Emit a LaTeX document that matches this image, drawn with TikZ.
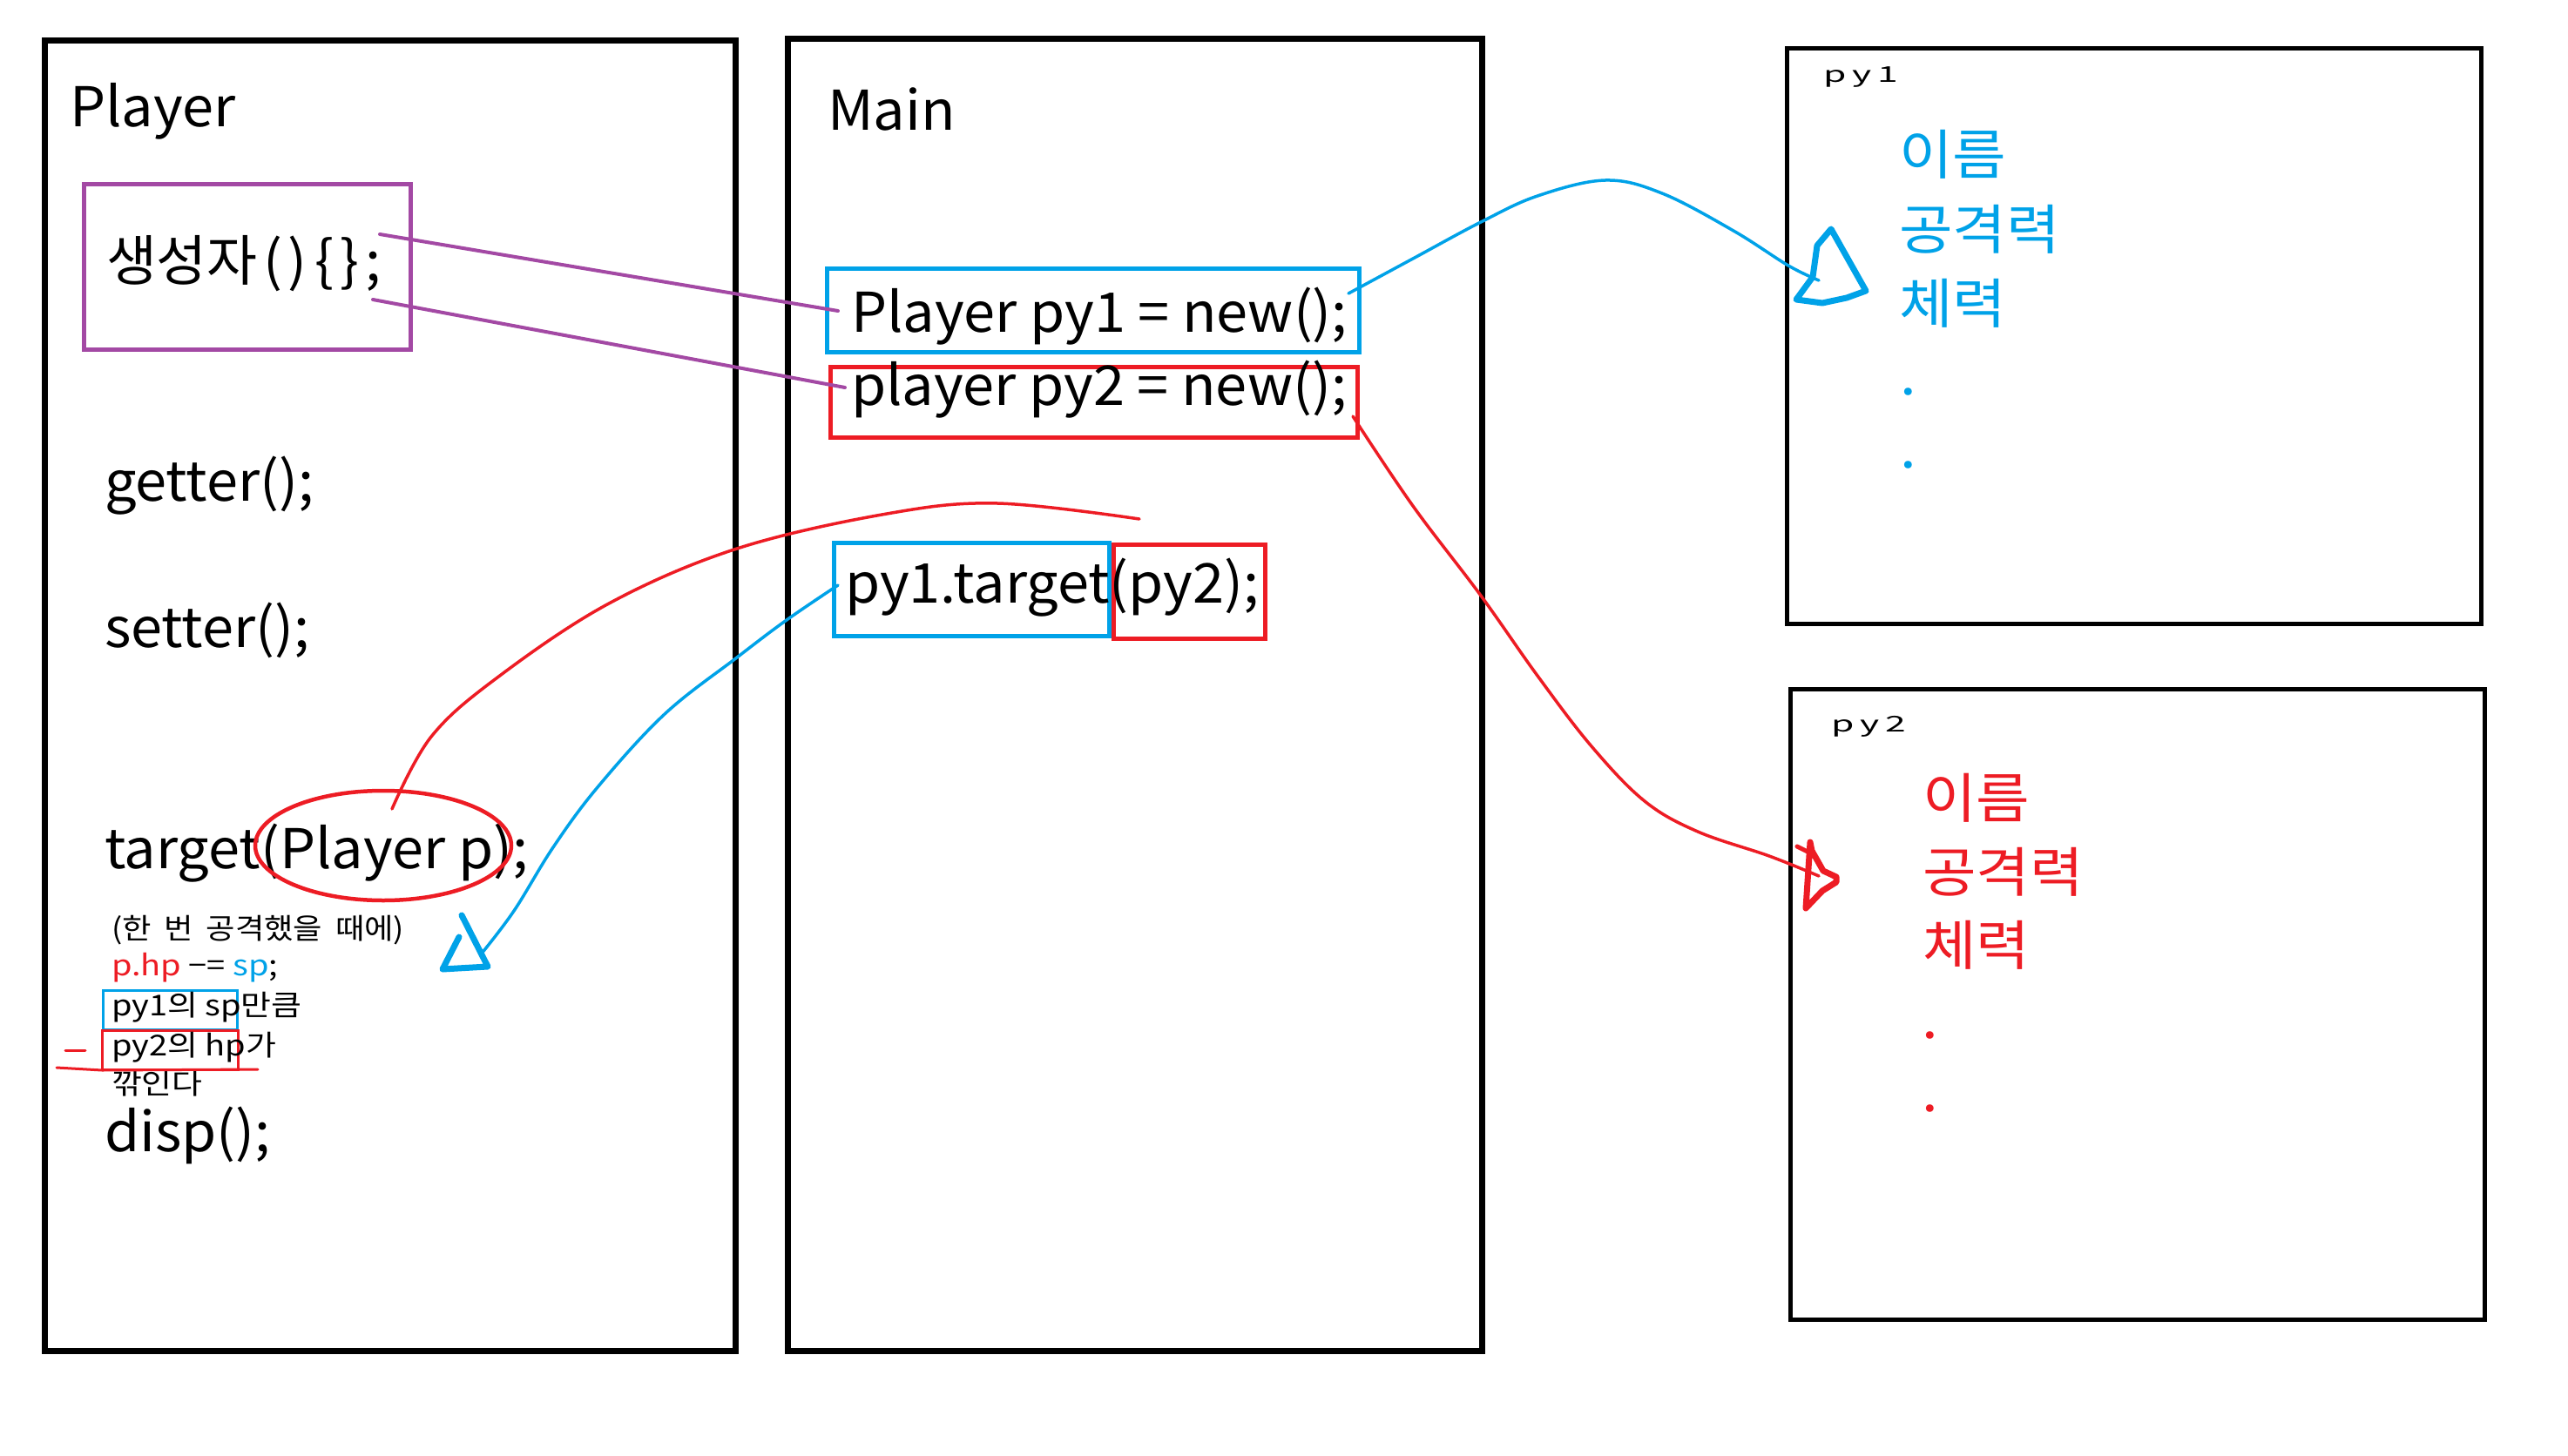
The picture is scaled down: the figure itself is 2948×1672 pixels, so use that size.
\documentclass[tikz,border=0pt]{standalone}
\usepackage{fontspec}
\setmainfont{Noto Sans CJK KR}
\newfontfamily\wf[FakeStretch=1.03]{Noto Sans CJK KR}
\newfontfamily\smallwf[FakeStretch=1.15]{Noto Sans CJK KR}
\newfontfamily\notef[FakeStretch=1.1]{Noto Sans CJK KR}
\newfontfamily\fieldf[FakeStretch=1.08]{Noto Sans CJK KR}
\usetikzlibrary{shapes.geometric}
\newcommand\myfs[1]{\fontsize{#1}{#1}\selectfont}
\definecolor{pblue}{HTML}{00A2E8}
\definecolor{pred}{HTML}{ED1C24}
\definecolor{ppurple}{HTML}{A349A4}
\begin{document}
\begin{tikzpicture}[x=1pt,y=-1pt,
  txt/.style={anchor=base west,inner sep=0pt,outer sep=0pt},
  big/.style={txt,font=\wf\myfs{63}},
  small/.style={txt,font=\smallwf\myfs{33}},
  bigbox/.style={draw=black,line width=7pt,inner sep=0pt,outer sep=0pt,anchor=north west},
  objbox/.style={draw=black,line width=5pt,inner sep=0pt,outer sep=0pt,anchor=north west},
  cbox/.style={draw=#1,line width=5pt,inner sep=0pt,outer sep=0pt,anchor=north west},
  sbox/.style={draw=#1,line width=3pt,inner sep=0pt,outer sep=0pt,anchor=north west},
  conn/.style={draw=#1,line width=3.5pt,line cap=round,line join=round},
  head/.style={draw=#1,line width=7pt,line cap=round,line join=round},
  field/.style={txt,font=\fieldf\myfs{62},text=#1}]
\useasboundingbox[fill=white] (0,0) rectangle (2948,1672);

% frames
\node[bigbox,minimum width=793pt,minimum height=1504pt] (playerbox) at (51,47) {};
\node[bigbox,minimum width=797pt,minimum height=1506pt] (mainbox) at (904,45) {};
\node[objbox,minimum width=797pt,minimum height=660pt] (py1box) at (2051,56) {};
\node[objbox,minimum width=797pt,minimum height=724pt] (py2box) at (2055,791) {};

% Player column
\node[big] (tplayer) at (80,146) {Player};
\node[cbox=ppurple,minimum width=375pt,minimum height=189pt] (ctorbox) at (96,212) {};
\node[txt] (ctor) at (122,322) {\myfs{63}생성자{\wf\kern7pt(\kern6pt)\kern9pt\{\kern7pt\}\kern7pt;}};
\node[big] (getter) at (120,575) {getter();};
\node[big] (setter) at (120,743) {setter();};
\node[big] (target) at (120,997) {target(Player p);};
\node[draw=pred,line width=4.5pt,ellipse,minimum width=294pt,minimum height=126pt,inner sep=0pt] (ell) at (440,971) {};
\node[txt,font=\notef\myfs{33}] (note1) at (128,1078) {(한\hspace{.45em}번\hspace{.45em}공격했을\hspace{.45em}때에)};
\node[small] (note2) at (128,1120) {\textcolor{pred}{p.hp} −= \textcolor{pblue}{sp};};
\node[sbox=pblue,minimum width=154pt,minimum height=45pt] (sb1) at (118,1137) {};
\node[sbox=pred,minimum width=156pt,minimum height=45pt] (sb2) at (117,1183) {};
\node[small] (note3) at (128,1166) {py1의 sp만큼};
\node[small] (note4) at (128,1212) {py2의 hp가};
\node[small] (note5) at (128,1256) {깎인다};
\node[big] (disp) at (120,1322) {disp();};
\coordinate (dashA) at (75,1206); \coordinate (dashB) at (98,1206);
\draw[conn=pred,line width=3pt] (dashA) -- (dashB);
\coordinate (ulA) at (65,1226); \coordinate (ulB) at (117,1229); \coordinate (ulC) at (296,1228);
\draw[conn=pred,line width=3pt] (ulA) -- (ulB) -- (ulC);

% Main column
\node[big] (tmain) at (950,150) {Main};
\node[cbox=pblue,minimum width=611pt,minimum height=96pt] (b1) at (949,308) {};
\node[big] (l1) at (977,381) {Player py1 = new();};
\node[cbox=pred,minimum width=605pt,minimum height=81pt] (r2) at (953,421) {};
\node[big] (l2) at (977,465) {player py2 = new();};
\node[cbox=pblue,minimum width=316pt,minimum height=107pt] (b3) at (957,623) {};
\node[cbox=pred,minimum width=174pt,minimum height=108pt] (r4) at (1278,625) {};
\node[big] (l3) at (970,692) {py1.target(py2);};

% py1 object
\node[txt,font=\myfs{25},xscale=1.7,transform shape] (lpy1) at (2093,95) {p\kern4pt y\kern4pt 1};
\node[field=pblue] (f11) at (2180,201) {이름};
\node[field=pblue] (f12) at (2180,286) {공격력};
\node[field=pblue] (f13) at (2180,371) {체력};
\node[field=pblue] (f14) at (2181,453) {.};
\node[field=pblue] (f15) at (2181,537) {.};

% py2 object
\node[txt,font=\myfs{25},xscale=1.7,transform shape] (lpy2) at (2102,840) {p\kern4pt y\kern4pt 2};
\node[field=pred] (f21) at (2207,939) {이름};
\node[field=pred] (f22) at (2207,1024) {공격력};
\node[field=pred] (f23) at (2207,1108) {체력};
\node[field=pred] (f24) at (2206,1192) {.};
\node[field=pred] (f25) at (2206,1276) {.};

% purple connectors
\coordinate (pA1) at (436,269); \coordinate (pB1) at (962,357);
\coordinate (pA2) at (428,344); \coordinate (pB2) at (970,445);
\draw[conn=ppurple,line width=4pt] (pA1) -- (pB1);
\draw[conn=ppurple,line width=4pt] (pA2) -- (pB2);

% blue: py1 -> object
\coordinate (c1s) at (1548,337); \coordinate (c1e) at (2088,322);
\draw[conn=pblue] plot[smooth,tension=0.6] coordinates {(c1s) (1622,297) (1700,255) (1765,225) (1843,207) (1908,222) (1990,265) (2053,305) (c1e)};
\draw[head=pblue] (2102,263) -- (2086,282) -- (2081,318) -- (2062,344) -- (2092,348) -- (2120,342) -- (2142,334) -- cycle;

% red: py2 -> object
\coordinate (c2s) at (1553,478); \coordinate (c2e) at (2088,1006);
\draw[conn=pred] plot[smooth,tension=0.6] coordinates {(c2s) (1622,581) (1700,684) (1765,776) (1827,857) (1888,920) (1949,955) (2031,983) (c2e)};
\draw[head=pred] (2078,967) -- (2073,1043) -- (2092,1023) -- (2108,1013) -- (2108,1007) -- (2093,1000) -- (2080,977) -- cycle;
\draw[head=pred,line width=5pt] (2063,972) -- (2075,978);

% blue: py1.target -> target()
\coordinate (c3s) at (962,672); \coordinate (c3e) at (552,1096);
\draw[conn=pblue] plot[smooth,tension=0.6] coordinates {(c3s) (903,712) (846,755) (763,820) (686,904) (635,973) (590,1046) (c3e)};
\draw[head=pblue] (527,1076) -- (508,1113) -- (560,1110) -- (530,1051);

% red: parameter arc
\coordinate (c4s) at (450,929); \coordinate (c4e) at (1308,596);
\draw[conn=pred] plot[smooth,tension=0.6] coordinates {(c4s) (495,846) (571,778) (699,693) (846,630) (1018,590) (1145,578) (c4e)};
\end{tikzpicture}
\end{document}
